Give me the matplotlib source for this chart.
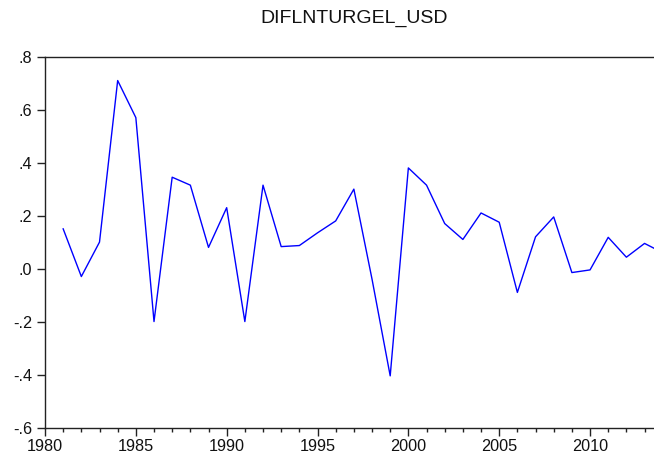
import matplotlib
matplotlib.use("Agg")
import matplotlib.pyplot as plt
from matplotlib.ticker import FuncFormatter, MultipleLocator

plt.rcParams["font.family"] = ["Liberation Sans", "DejaVu Sans"]

years = list(range(1981, 2015))
values = [0.15, -0.03, 0.10, 0.71, 0.57, -0.20, 0.345, 0.315, 0.08, 0.23,
          -0.20, 0.315, 0.083, 0.087, 0.135, 0.18, 0.30, -0.04, -0.405, 0.38,
          0.315, 0.17, 0.11, 0.21, 0.175, -0.09, 0.12, 0.195, -0.015, -0.005,
          0.118, 0.043, 0.095, 0.06]
title = "DIFLNTURGEL_USD"

fig = plt.figure(figsize=(6.54, 4.59), dpi=100)
ax = fig.add_axes([45 / 654, 31.5 / 459, 609 / 654, 370.8 / 459])

ax.plot(years, values, color="#0000ff", linewidth=1.0)

ax.set_xlim(1980, 2013.52)
ax.set_ylim(-0.6, 0.8)

ax.xaxis.set_major_locator(MultipleLocator(5))
ax.xaxis.set_minor_locator(MultipleLocator(1))
ax.yaxis.set_major_locator(MultipleLocator(0.2))


def fmt(v, pos):
    s = f"{v:.1f}"
    return s.replace("0.", ".")


ax.yaxis.set_major_formatter(FuncFormatter(fmt))

for side in ("left", "top", "bottom"):
    ax.spines[side].set_color("#222222")
    ax.spines[side].set_linewidth(1.0)
ax.spines["right"].set_visible(False)

ax.tick_params(axis="both", which="major", direction="out", length=6,
               width=1.0, color="#222222", labelsize=11.7, labelcolor="#111111")
ax.tick_params(axis="x", which="minor", direction="out", length=3,
               width=1.0, color="#222222")
ax.tick_params(axis="x", pad=2)
ax.tick_params(axis="y", pad=3)

fig.text(354 / 654, 1 - 18 / 459, title, ha="center", va="center",
         fontsize=14, color="#111111")

fig.savefig("out.png", dpi=100)
